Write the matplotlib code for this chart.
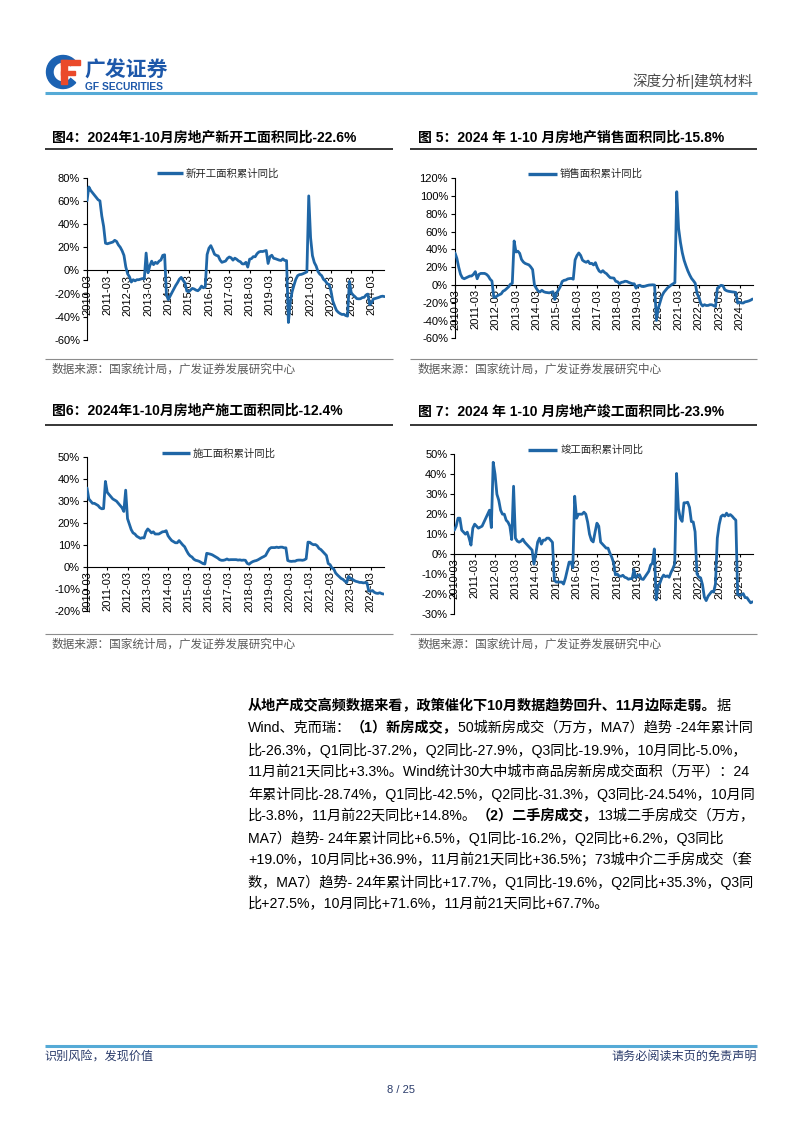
import numpy as np
import matplotlib
matplotlib.use("Agg")
import matplotlib.pyplot as plt
from matplotlib.patches import Wedge, Rectangle

plt.rcParams['font.family'] = ['Liberation Sans', 'Noto Sans CJK SC']
plt.rcParams['axes.unicode_minus'] = False

# ---------------- data ----------------
years = list(range(2010, 2025))
tick_labels = [f"{y}-03" for y in years]

new_start = [
    60, 72, 69, 67, 65, 63, 61, 60, 47, 38,                        # 2010 03-12
    23.5, 23.0, 23.5, 24.0, 24.5, 26.0, 25.0, 22.0, 20.0, 17.0, 13.0,  # 2011
    3.0, -3.0, -5.5, -10.0, -8.0, -9.0, -8.0, -8.0, -7.5, -7.0, -7.3,  # 2012
    15.0, -2.0, 4.0, 8.0, 5.0, 7.0, 6.0, 8.0, 9.0, 13.0, 13.5,         # 2013
    -21.0, -25.2, -22.0, -19.0, -16.0, -13.0, -10.5, -7.5, -6.0, -8.5, -10.7,  # 2014
    -17.7, -18.4, -17.0, -15.5, -16.0, -17.0, -17.5, -16.0, -13.5, -15.0, -14.0,  # 2015
    13.7, 19.2, 21.4, 18.0, 14.0, 13.0, 12.5, 9.0, 7.0, 7.5, 8.1,      # 2016
    10.4, 11.6, 10.9, 8.9, 10.6, 9.6, 8.2, 7.5, 5.7, 5.6, 7.0,         # 2017
    2.9, 9.7, 10.2, 11.9, 11.8, 14.4, 15.9, 16.4, 16.3, 16.8, 17.2,    # 2018
    6.0, 11.9, 13.1, 10.5, 10.1, 9.5, 8.9, 8.6, 10.0, 8.6, 8.5,        # 2019
    -44.9, -27.2, -18.4, -12.8, -7.6, -4.5, -3.6, -3.4, -2.8, -2.0, -1.2,  # 2020
    64.3, 28.2, 12.8, 6.9, 3.8, -0.9, -3.2, -4.5, -7.7, -9.1, -11.4,   # 2021
    -12.2, -17.5, -26.3, -30.6, -34.4, -36.1, -37.2, -38.0, -37.8, -38.9, -39.4,  # 2022
    -9.4, -19.2, -21.2, -22.6, -24.3, -24.5, -24.4, -23.4, -23.2, -21.2, -20.4,  # 2023
    -29.7, -27.8, -24.6, -24.2, -23.7, -23.2, -22.5, -22.2, -22.6,     # 2024 02-10
]

sales = [
    36.0, 30.0, 20.0, 12.0, 8.0, 7.0, 8.0, 9.0, 10.0, 10.1,
    12.0, 15.0, 7.0, 12.0, 13.0, 13.0, 13.0, 12.0, 10.0, 6.5, 4.4,
    -14.0, -13.6, -12.0, -11.0, -10.0, -7.0, -5.9, -4.0, -2.1, 0.8, 1.8,
    49.5, 37.1, 38.0, 35.6, 28.7, 25.8, 24.2, 23.4, 22.6, 20.3, 17.3,
    -0.1, -3.8, -6.8, -7.8, -6.0, -7.6, -8.3, -8.6, -8.9, -8.2, -7.6,
    -16.3, -9.2, -5.4, -1.8, 3.9, 5.2, 5.6, 6.8, 7.2, 7.4, 6.5,
    28.2, 33.1, 36.0, 33.2, 27.9, 26.4, 25.5, 26.9, 24.0, 24.3, 22.5,
    25.1, 19.5, 15.7, 14.3, 16.1, 14.0, 12.7, 10.3, 8.2, 7.9, 7.7,
    4.1, 3.6, 1.3, 2.9, 3.3, 4.2, 4.0, 2.9, 2.2, 1.4, 1.3,
    -3.6, -0.9, -0.3, -1.6, -1.8, -1.3, -0.6, -0.1, 0.1, 0.2, -0.1,
    -39.9, -26.3, -19.3, -12.3, -8.4, -5.8, -3.3, -1.8, 0.0, 1.3, 2.6,
    104.9, 63.8, 48.1, 36.3, 27.7, 21.5, 15.9, 11.3, 7.4, 4.8, 1.9,
    -9.6, -13.8, -20.9, -23.6, -22.2, -23.1, -23.0, -22.2, -22.3, -23.3, -24.3,
    -3.6, -1.8, -0.4, -0.9, -5.3, -6.5, -7.1, -7.5, -7.8, -8.0, -8.5,
    -20.5, -19.4, -20.2, -20.3, -19.0, -18.6, -18.0, -17.1, -15.8,
]

construction = [
    36.0, 31.0, 30.0, 29.0, 29.0, 28.5, 28.0, 27.0, 26.5, 26.6,
    39.0, 34.0, 33.0, 32.0, 31.0, 30.5, 30.0, 29.0, 28.0, 27.0, 25.3,
    35.0, 22.0, 19.5, 17.0, 15.5, 15.0, 14.0, 13.5, 13.0, 13.3, 13.2,
    16.0, 17.3, 16.5, 15.5, 16.0, 15.0, 15.0, 15.0, 15.5, 16.0, 16.1,
    16.5, 14.2, 13.0, 12.0, 11.5, 11.0, 11.0, 12.0, 11.0, 10.0, 9.2,
    7.5, 6.0, 5.0, 4.5, 3.5, 3.0, 2.8, 2.5, 2.0, 1.5, 1.3,
    6.2, 6.0, 5.8, 5.5, 5.0, 4.5, 4.0, 3.3, 3.0, 3.0, 3.2,
    3.6, 3.2, 3.3, 3.3, 3.3, 3.3, 3.1, 3.2, 3.0, 3.1, 3.0,
    1.6, 1.2, 1.9, 2.4, 2.7, 2.9, 3.3, 3.8, 4.3, 4.7, 5.2,
    6.8, 8.2, 8.8, 8.8, 8.8, 9.0, 8.8, 9.0, 9.0, 8.7, 8.7,
    2.9, 2.6, 2.5, 2.6, 2.6, 3.0, 3.1, 3.1, 3.0, 3.2, 3.7,
    11.3, 11.2, 10.5, 10.1, 10.2, 9.6, 8.4, 7.9, 7.0, 6.1, 5.2,
    1.5, 1.0, -0.5, -1.0, -2.8, -3.7, -4.5, -5.3, -5.7, -6.5, -7.2,
    -4.4, -5.2, -5.6, -6.2, -6.6, -6.8, -7.1, -7.1, -7.3, -7.2, -7.2,
    -11.0, -11.1, -10.8, -11.6, -12.0, -12.1, -11.8, -12.2, -12.4,
]

completion = [
    12, 14, 18, 18, 12, 11, 10, 11, 8, 4.5,
    13, 15, 14, 13, 13.5, 14, 16, 18, 20, 22, 13.3,
    46, 40, 30, 27, 22, 20, 20, 17, 16, 14, 7.3,
    34, 8, 6.5, 6, 6.5, 7.5, 6, 5, 4, 3, 2.0,
    -5, 0, 6, 8, 5, 7, 7, 8, 8, 7, 5.9,
    -13, -14, -14, -14, -14, -15, -12, -8, -4, -4, -6.9,
    29, 18, 20, 20, 20, 21, 20, 16, 10, 7, 6.1,
    11, 15.5, 14, 6, 5, 4, 3, 3, 0.5, -1.5, -4.4,
    -10.4, -10.0, -11.0, -11.1, -10.6, -11.6, -11.9, -12.6, -12.3, -12.3, -7.8,
    -11.9, -10.8, -10.3, -12.4, -12.7, -11.3, -10.0, -8.6, -5.5, -4.5, 2.6,
    -22.9, -15.8, -14.5, -12.0, -10.5, -11.3, -10.9, -11.6, -9.2, -7.3, -4.9,
    40.4, 22.9, 17.9, 16.4, 25.7, 25.7, 26.0, 23.4, 16.3, 16.1, 11.2,
    -9.8, -11.5, -11.9, -15.3, -21.5, -23.3, -21.1, -19.9, -18.7, -19.0, -15.0,
    8.0, 14.7, 18.8, 19.6, 19.0, 20.5, 19.2, 19.8, 19.0, 17.9, 17.0,
    -20.2, -20.7, -20.4, -19.8, -21.8, -21.8, -23.2, -24.4, -23.9,
]

# month categories: 2010 starts in March, later years start with Jan-Feb (02)
dates = []
for y in years:
    if y == 2010:
        ms = range(3, 13)
    elif y == 2024:
        ms = range(2, 11)
    else:
        ms = range(2, 13)
    dates += [f"{y}-{m:02d}" for m in ms]
tick_pos = [dates.index(t) for t in tick_labels]

titles = ["图4：2024年1-10月房地产新开工面积同比-22.6%",
          "图 5：2024 年 1-10 月房地产销售面积同比-15.8%",
          "图6：2024年1-10月房地产施工面积同比-12.4%",
          "图 7：2024 年 1-10 月房地产竣工面积同比-23.9%"]
legends = ["新开工面积累计同比", "销售面积累计同比", "施工面积累计同比", "竣工面积累计同比"]
source = "数据来源：国家统计局，广发证券发展研究中心"

body_lines = [
    [("从地产成交高频数据来看，政策催化下10月数据趋势回升、11月边际走弱。", True), ("据", False)],
    [("Wind、克而瑞：", False), ("（1）新房成交，", True), ("50城新房成交（万方，MA7）趋势 -24年累计同", False)],
    [("比-26.3%，Q1同比-37.2%，Q2同比-27.9%，Q3同比-19.9%，10月同比-5.0%，", False)],
    [("11月前21天同比+3.3%。Wind统计30大中城市商品房新房成交面积（万平）：24", False)],
    [("年累计同比-28.74%，Q1同比-42.5%，Q2同比-31.3%，Q3同比-24.54%，10月同", False)],
    [("比-3.8%，11月前22天同比+14.8%。", False), ("（2）二手房成交，", True), ("13城二手房成交（万方，", False)],
    [("MA7）趋势- 24年累计同比+6.5%，Q1同比-16.2%，Q2同比+6.2%，Q3同比", False)],
    [("+19.0%，10月同比+36.9%，11月前21天同比+36.5%；73城中介二手房成交（套", False)],
    [("数，MA7）趋势- 24年累计同比+17.7%，Q1同比-19.6%，Q2同比+35.3%，Q3同", False)],
    [("比+27.5%，10月同比+71.6%，11月前21天同比+67.7%。", False)],
]

# ---------------- page ----------------
W, H = 802, 1133
fig = plt.figure(figsize=(W / 100, H / 100), dpi=100)
fig.patch.set_facecolor("white")
page = fig.add_axes([0, 0, 1, 1])
page.set_xlim(0, W)
page.set_ylim(H, 0)
page.axis("off")

LINE = "#1f66a6"
NAVY = "#2b3c6b"
LIGHTBLUE = "#55aad6"

# logo
page.add_patch(Wedge((63, 72), 16.5, 40, 320, width=6.5, color="#1c62b2"))
page.add_patch(Rectangle((61, 60), 19, 5, color="#ea4a2b"))
page.add_patch(Rectangle((61, 60), 5.5, 24, color="#ea4a2b"))
page.add_patch(Rectangle((61, 70.5), 14, 4.5, color="#ea4a2b"))
page.text(84, 70, "广发证券", fontsize=15, fontweight="bold", color="#1d58aa",
          va="center", ha="left", family=["Noto Sans CJK SC"])
page.text(85, 86.5, "GF SECURITIES", fontsize=7.4, fontweight="bold", color="#1d58aa",
          va="center", ha="left")

# header
page.text(753, 81, "深度分析|建筑材料", fontsize=10.5, color="#4a4a4a", ha="right", va="center")
page.plot([45, 757], [93, 93], color=LIGHTBLUE, lw=2.2, solid_capstyle="butt")

# chart frames
panels = [
    dict(x0=45, x1=393, tx=52, ty=138, uy=149, sy=358.5, st=370,
         ax=(87, 384.5, 177.7, 340), ylim=(-60, 80), yt=np.arange(-60, 81, 20),
         leg=(157, 183, 173.3), data=new_start),
    dict(x0=410, x1=757, tx=418, ty=138, uy=149, sy=358.5, st=370,
         ax=(455, 752.5, 178.3, 338.3), ylim=(-60, 120), yt=np.arange(-60, 121, 20),
         leg=(528, 557, 174), data=sales),
    dict(x0=45, x1=393, tx=52, ty=411, uy=425, sy=634, st=645,
         ax=(87, 383.5, 457.3, 610.7), ylim=(-20, 50), yt=np.arange(-20, 51, 10),
         leg=(162, 190, 453.3), data=construction),
    dict(x0=410, x1=757, tx=418, ty=411, uy=425, sy=634, st=645,
         ax=(454.3, 752.5, 454.3, 614), ylim=(-30, 50), yt=np.arange(-30, 51, 10),
         leg=(528, 557, 450), data=completion),
]

for i, p in enumerate(panels):
    page.text(p["tx"], p["ty"], titles[i], fontsize=10, fontweight="bold", color="black",
              ha="left", va="center")
    page.plot([p["x0"], p["x1"]], [p["uy"], p["uy"]], color="black", lw=1.1, solid_capstyle="butt")
    page.plot([p["x0"], p["x1"]], [p["sy"], p["sy"]], color="#8c8c8c", lw=0.8, solid_capstyle="butt")
    page.text(p["tx"], p["st"], source, fontsize=8.4, color="#595959", ha="left", va="center")
    lx0, lx1, ly = p["leg"]
    page.plot([lx0, lx1], [ly, ly], color=LINE, lw=2.4, solid_capstyle="butt")
    page.text(lx1 + 3, ly, legends[i], fontsize=7.5, color="#262626", ha="left", va="center")

    l, r, t, b = p["ax"]
    ax = fig.add_axes([l / W, 1 - b / H, (r - l) / W, (b - t) / H])
    ax.patch.set_alpha(0)
    vals = p["data"]
    x = np.arange(len(vals))
    ax.plot(x, vals, color=LINE, lw=2.0, solid_joinstyle="round", solid_capstyle="round",
            zorder=3)
    ax.set_xlim(0, len(vals) - 1)
    ax.set_ylim(*p["ylim"])
    for s in ("top", "right"):
        ax.spines[s].set_visible(False)
    ax.spines["bottom"].set_position(("data", 0))
    ax.spines["bottom"].set_linewidth(0.8)
    ax.spines["left"].set_linewidth(0.8)
    ax.spines["bottom"].set_zorder(2)
    ax.set_xticks(tick_pos)
    ax.set_xticklabels(tick_labels, rotation=90, fontsize=8)
    ax.set_yticks(p["yt"])
    ax.set_yticklabels([f"{v}%" for v in p["yt"]], fontsize=8)
    ax.tick_params(axis="x", length=2, width=0.8, pad=1)
    ax.tick_params(axis="y", length=3, width=0.8, pad=2)

# body text
renderer = fig.canvas.get_renderer()
for k, segs in enumerate(body_lines):
    y = 706 + 22 * k
    xcur = 248
    for s, bold in segs:
        t = page.text(xcur, y, s, fontsize=10.2, fontweight="bold" if bold else "normal",
                      color="black", ha="left", va="center")
        bb = t.get_window_extent(renderer)
        xcur += bb.width

# footer
page.plot([45, 757], [1046, 1046], color=LIGHTBLUE, lw=2.2, solid_capstyle="butt")
page.text(44, 1057, "识别风险，发现价值", fontsize=8.7, color=NAVY, ha="left", va="center")
page.text(757, 1057, "请务必阅读末页的免责声明", fontsize=8.7, color=NAVY, ha="right", va="center")
page.text(401, 1090, "8 / 25", fontsize=8, color=NAVY, ha="center", va="center")

fig.savefig("out.png", dpi=100, facecolor="white")
